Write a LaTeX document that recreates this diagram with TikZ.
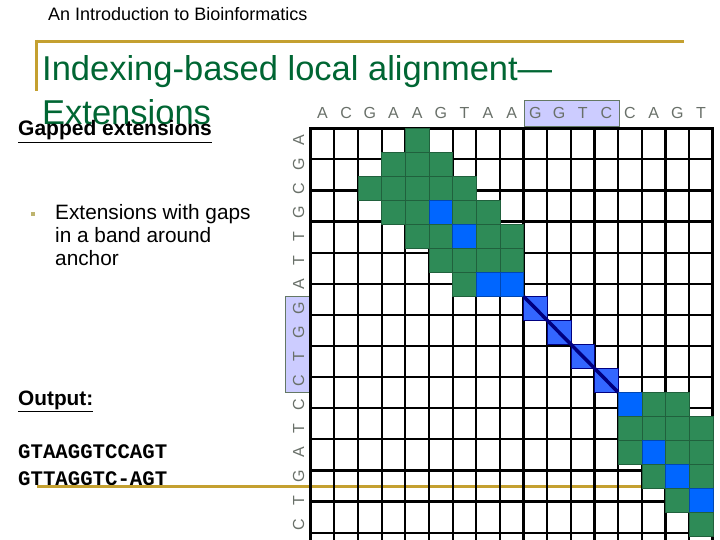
\documentclass[tikz,border=0pt]{standalone}
\usepackage{fontspec}
\setmainfont{Liberation Sans}
\newfontfamily\seqfont{Liberation Mono}
\definecolor{slidegold}{RGB}{196,160,48}
\definecolor{titlegreen}{RGB}{0,102,51}
\definecolor{cellgreen}{RGB}{46,139,87}
\definecolor{cellblue}{RGB}{0,102,255}
\definecolor{anchorblue}{RGB}{51,102,255}
\definecolor{anchorline}{RGB}{0,0,128}
\definecolor{seqbox}{RGB}{204,204,255}
\definecolor{seqboxline}{RGB}{100,120,100}
\definecolor{seqgray}{RGB}{105,112,105}
\definecolor{bulletgold}{RGB}{190,180,110}
\tikzset{
  greencell/.style={fill=cellgreen, draw=cellgreen!70!black, line width=0.5pt},
  bluecell/.style={fill=cellblue, draw=cellblue!70!black, line width=0.5pt},
  anchorcell/.style={fill=anchorblue, draw=anchorline, line width=0.6pt},
  gridline/.style={line width=2.2pt, line cap=rect},
  seqletter/.style={text=seqgray, font=\fontsize{16}{16}\selectfont, inner sep=0pt},
  plaintext/.style={anchor=base west, inner sep=0pt}
}
\def\cell(#1,#2)#3{\draw[#3] ({310.7+23.65*#1},{128.3+24*#2}) rectangle ++(23.65,24);}

\begin{document}
\begin{tikzpicture}[x=1pt,y=-1pt]
	\useasboundingbox (0,0) rectangle (720,540);
	\clip (0,0) rectangle (720,540);
	%%%%% START %%%%%
	
	\draw[slidegold, line width=3pt] (36.5,41.5) -- (684,41.5);
	\draw[slidegold, line width=3pt] (36.5,40) -- (36.5,91);
	\node[plaintext, font=\fontsize{18}{18}\selectfont] (header) at (48,21) {An Introduction to Bioinformatics};
	
	\node[plaintext, text=titlegreen, font=\fontsize{34.5}{34.5}\selectfont] (title) at (42,81) {Indexing-based local alignment—};
	\node[plaintext, text=titlegreen, font=\fontsize{34.5}{34.5}\selectfont] (titlerest) at (42,125) {Extensions};
	\node[plaintext, font=\bfseries\fontsize{21}{21}\selectfont] (gapped) at (18,136) {\underline{Gapped extensions}};
	
	\node[fill=bulletgold, minimum size=4pt, inner sep=0pt] (bullet) at (33,214) {};
	\node[plaintext, font=\fontsize{20.8}{20.8}\selectfont] (band1) at (55,219) {Extensions with gaps};
	\node[plaintext, font=\fontsize{20.8}{20.8}\selectfont] (band2) at (55,242) {in a band around};
	\node[plaintext, font=\fontsize{20.8}{20.8}\selectfont] (band3) at (55,265) {anchor};
	
	\node[plaintext, font=\bfseries\fontsize{20.8}{20.8}\selectfont] (output) at (18,405) {\underline{Output:}};
	\node[plaintext, font=\seqfont\bfseries\fontsize{20.7}{20.7}\selectfont] (seqtop) at (18,458) {GTAAGGTCCAGT};
	\node[plaintext, font=\seqfont\bfseries\fontsize{20.7}{20.7}\selectfont] (seqbottom) at (18,485) {GTTAGGTC-AGT};
	
	\draw[slidegold, line width=3pt] (37,486.7) -- (684,486.7);
	
	% sequence labels
	\draw[fill=seqbox, draw=seqboxline, line width=0.8pt] (524,100) rectangle (619,126.7);
	\draw[fill=seqbox, draw=seqboxline, line width=0.8pt] (285.3,296) rectangle (311,392.3);
	\foreach \l [count=\i from 0] in {A,C,G,A,A,G,T,A,A,G,G,T,C,C,A,G,T}
		\node[seqletter] (top\i) at ({322.5+23.65*\i},113) {\l};
	\foreach \l [count=\i from 0] in {A,G,C,G,T,T,A,G,G,T,C,C,T,A,G,T,C}
		\node[seqletter, rotate=90] (left\i) at (298.5,{140.3+24*\i}) {\l};
	
	% matrix
	\foreach \i in {0,...,17}
		\draw[gridline] ({310.7+23.65*\i},128.3) -- ({310.7+23.65*\i},545);
	\foreach \j in {0,...,13}
		\draw[gridline] (310.7,{128.3+31.1*\j}) -- (712.75,{128.3+31.1*\j});
	\draw[line width=3pt] (310.7,545) -- (310.7,128.3) -- (712.75,128.3) -- (712.75,545);
	
	\cell(4,0){greencell}
	\cell(3,1){greencell} \cell(4,1){greencell} \cell(5,1){greencell}
	\cell(2,2){greencell} \cell(3,2){greencell} \cell(4,2){greencell} \cell(5,2){greencell} \cell(6,2){greencell}
	\cell(3,3){greencell} \cell(4,3){greencell} \cell(5,3){bluecell} \cell(6,3){greencell} \cell(7,3){greencell}
	\cell(4,4){greencell} \cell(5,4){greencell} \cell(6,4){bluecell} \cell(7,4){greencell} \cell(8,4){greencell}
	\cell(5,5){greencell} \cell(6,5){greencell} \cell(7,5){greencell} \cell(8,5){greencell}
	\cell(6,6){greencell} \cell(7,6){bluecell} \cell(8,6){bluecell}
	
	\cell(9,7){anchorcell} \cell(10,8){anchorcell} \cell(11,9){anchorcell} \cell(12,10){anchorcell}
	
	\cell(13,11){bluecell} \cell(14,11){greencell} \cell(15,11){greencell}
	\cell(13,12){greencell} \cell(14,12){greencell} \cell(15,12){greencell} \cell(16,12){greencell}
	\cell(13,13){greencell} \cell(14,13){bluecell} \cell(15,13){greencell} \cell(16,13){greencell}
	\cell(14,14){greencell} \cell(15,14){bluecell} \cell(16,14){greencell}
	\cell(15,15){greencell} \cell(16,15){bluecell}
	\cell(16,16){greencell}
	
	\coordinate (anchorstart) at ({310.7+23.65*9},{128.3+24*7});
	\coordinate (anchorend) at ({310.7+23.65*13},{128.3+24*11});
	\draw[anchorline, line width=3.5pt] (anchorstart) -- (anchorend);
	
	%%%%% END %%%%%
\end{tikzpicture}
\end{document}
